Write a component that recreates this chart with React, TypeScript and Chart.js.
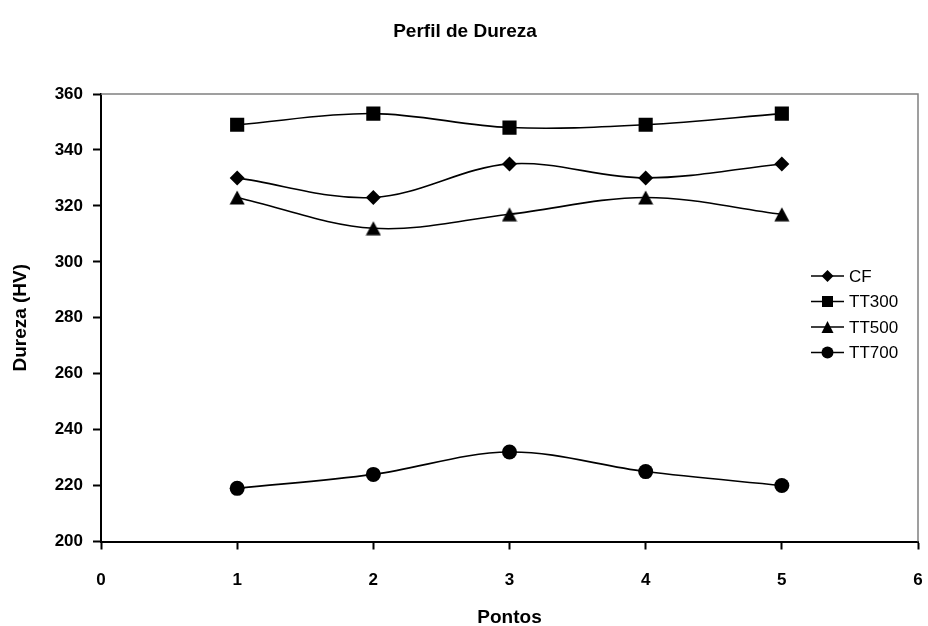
import React, { useEffect, useRef } from 'react';
import { Chart, registerables } from 'chart.js';

Chart.register(...registerables);

const pontos = [1, 2, 3, 4, 5];
const cfValues = [330, 323, 335, 330, 335];
const tt300Values = [349, 353, 348, 349, 353];
const tt500Values = [323, 312, 317, 323, 317];
const tt700Values = [219, 224, 232, 225, 220];
const seriesLabels = ['CF', 'TT300', 'TT500', 'TT700'];
const chartTitle = 'Perfil de Dureza';
const xTitle = 'Pontos';
const yTitle = 'Dureza (HV)';

const FONT = "'Liberation Sans', Arial, sans-serif";

function makeTriangle(): HTMLCanvasElement {
  const c = document.createElement('canvas');
  c.width = 16;
  c.height = 15;
  const g = c.getContext('2d')!;
  g.fillStyle = '#000';
  g.beginPath();
  g.moveTo(8, 0.5);
  g.lineTo(15.5, 14.5);
  g.lineTo(0.5, 14.5);
  g.closePath();
  g.fill();
  return c;
}

function drawMarker(ctx: CanvasRenderingContext2D, kind: string, x: number, y: number, s: number) {
  ctx.fillStyle = '#000';
  ctx.beginPath();
  if (kind === 'rect') {
    ctx.rect(x - s / 2, y - s / 2, s, s);
  } else if (kind === 'rectRot') {
    ctx.moveTo(x, y - s / 2);
    ctx.lineTo(x + s / 2, y);
    ctx.lineTo(x, y + s / 2);
    ctx.lineTo(x - s / 2, y);
    ctx.closePath();
  } else if (kind === 'triangle') {
    ctx.moveTo(x, y - s / 2);
    ctx.lineTo(x + s / 2, y + s / 2);
    ctx.lineTo(x - s / 2, y + s / 2);
    ctx.closePath();
  } else {
    ctx.arc(x, y, s / 2, 0, Math.PI * 2);
  }
  ctx.fill();
}

const frameAndLegend = {
  id: 'frameAndLegend',
  beforeDatasetsDraw(chart: any) {
    const { ctx, chartArea } = chart;
    ctx.save();
    ctx.strokeStyle = '#808080';
    ctx.lineWidth = 1.5;
    ctx.beginPath();
    ctx.moveTo(chartArea.left, chartArea.top);
    ctx.lineTo(chartArea.right, chartArea.top);
    ctx.lineTo(chartArea.right, chartArea.bottom);
    ctx.stroke();
    ctx.restore();
  },
  afterDraw(chart: any) {
    const { ctx } = chart;
    const kinds = ['rectRot', 'rect', 'triangle', 'circle'];
    ctx.save();
    chart.data.datasets.forEach((ds: any, i: number) => {
      const y = 276 + i * 25.5;
      ctx.strokeStyle = '#000';
      ctx.lineWidth = 1.5;
      ctx.beginPath();
      ctx.moveTo(811, y);
      ctx.lineTo(844, y);
      ctx.stroke();
      drawMarker(ctx, kinds[i], 827.5, y, kinds[i] === 'rect' ? 11 : 12);
      ctx.fillStyle = '#000';
      ctx.font = `17px ${FONT}`;
      ctx.textAlign = 'left';
      ctx.textBaseline = 'middle';
      ctx.fillText(ds.label, 849, y + 1);
    });
    ctx.restore();
  },
};

export default function App() {
  const ref = useRef<HTMLCanvasElement>(null);

  useEffect(() => {
    if (!ref.current) return;
    const tri = makeTriangle();
    const series = [cfValues, tt300Values, tt500Values, tt700Values];
    const styles: any[] = ['rectRot', 'rect', tri, 'circle'];
    const radii = [7.5, 10, 8, 7.5];
    const datasets = series.map((vals, i) => ({
      label: seriesLabels[i],
      data: pontos.map((p, j) => ({ x: p, y: vals[j] })),
      borderColor: '#000',
      backgroundColor: '#000',
      borderWidth: 1.6,
      pointStyle: styles[i],
      pointRadius: radii[i],
      pointBorderWidth: 0,
      pointBackgroundColor: '#000',
      pointBorderColor: '#000',
      tension: 0.35,
      fill: false,
    }));

    const chart = new Chart(ref.current, {
      type: 'line',
      data: { datasets },
      plugins: [frameAndLegend],
      options: {
        responsive: false,
        animation: false,
        devicePixelRatio: 1,
        layout: { padding: { left: 8, right: 6, top: 0, bottom: 0 } },
        plugins: {
          legend: { display: false },
          tooltip: { enabled: false },
          title: {
            display: true,
            text: chartTitle,
            color: '#000',
            font: { family: FONT, size: 19, weight: 'bold', lineHeight: 1.2 },
            padding: { top: 20, bottom: 51.2 },
          },
        },
        scales: {
          x: {
            type: 'linear',
            min: 0,
            max: 6,
            afterFit: (scale: any) => {
              scale.height = 84.5;
              scale.paddingLeft = 0;
              scale.paddingRight = 0;
            },
            ticks: {
              stepSize: 1,
              color: '#000',
              padding: 21,
              font: { family: FONT, size: 17, weight: 'bold' },
            },
            grid: {
              display: true,
              drawOnChartArea: false,
              drawTicks: true,
              tickLength: 8,
              tickWidth: 2,
              tickColor: '#000',
            },
            border: { display: true, color: '#000', width: 2 },
            title: {
              display: true,
              text: xTitle,
              color: '#000',
              font: { family: FONT, size: 19, weight: 'bold', lineHeight: 1.2 },
              padding: { top: 14, bottom: -3 },
            },
          },
          y: {
            min: 200,
            max: 360,
            afterFit: (scale: any) => { scale.width = 93; },
            ticks: {
              stepSize: 20,
              color: '#000',
              padding: 10,
              font: { family: FONT, size: 17, weight: 'bold' },
            },
            grid: {
              display: true,
              drawOnChartArea: false,
              drawTicks: true,
              tickLength: 8,
              tickWidth: 2,
              tickColor: '#000',
            },
            border: { display: true, color: '#000', width: 2 },
            title: {
              display: true,
              text: yTitle,
              color: '#000',
              font: { family: FONT, size: 19, weight: 'bold', lineHeight: 1.2 },
              padding: { top: 1, bottom: 0 },
            },
          },
        },
      },
    });
    return () => chart.destroy();
  }, []);

  return (
    <canvas
      ref={ref}
      width={928}
      height={626}
      style={{ position: 'absolute', left: 0, top: 0, display: 'block', background: '#fff' }}
    />
  );
}
